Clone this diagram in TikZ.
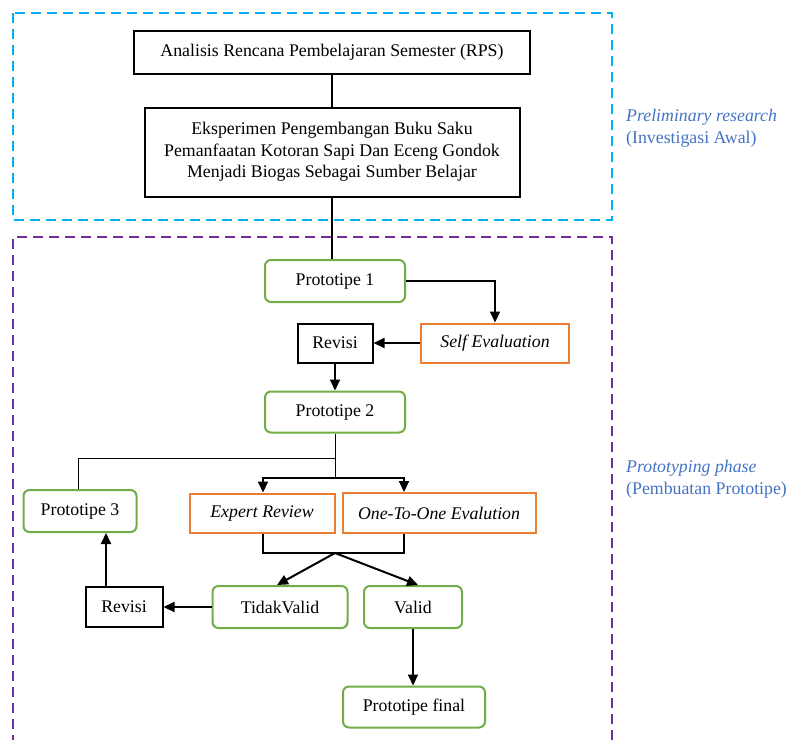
\documentclass[tikz,border=0pt]{standalone}
\usepackage{fontspec}
\setmainfont{Liberation Serif}
\usetikzlibrary{arrows.meta,calc}
\definecolor{cyanb}{HTML}{00B0F0}
\definecolor{purp}{HTML}{7030A0}
\definecolor{grn}{HTML}{70AD47}
\definecolor{org}{HTML}{ED7D31}
\definecolor{lbl}{HTML}{4472C4}
\begin{document}
\begin{tikzpicture}[x=1pt,y=-1pt,
  every node/.style={font=\fontsize{17.8}{21.5}\selectfont, inner sep=0pt},
  bbox/.style={draw=black, line width=2pt, align=center},
  gbox/.style={draw=grn, line width=2pt, rounded corners=6pt, align=center},
  obox/.style={draw=org, line width=2pt, align=center, font=\fontsize{17.8}{21.5}\selectfont\itshape},
  conn/.style={line width=2pt},
  arr/.style={line width=2pt, -{Triangle[length=11pt,width=10pt]}},
  thinl/.style={line width=1pt},
  phase/.style={text=lbl, anchor=west, align=left}
]
\useasboundingbox (0,0) rectangle (792,739);
% phase frames
\draw[cyanb, line width=2pt, dash pattern=on 10pt off 6pt] (13,13) rectangle (612,220);
\draw[purp, line width=2pt, dash pattern=on 10pt off 6pt] (13,745) -- (13,237) -- (612,237) -- (612,745);
% nodes
\node[bbox, minimum width=396pt, minimum height=43pt] (rps) at (332,52) {Analisis Rencana Pembelajaran Semester (RPS)};
\node[bbox, minimum width=375pt, minimum height=89pt] (eks) at (332,152) {Eksperimen Pengembangan Buku Saku\\Pemanfaatan Kotoran Sapi Dan Eceng Gondok\\Menjadi Biogas Sebagai Sumber Belajar};
\node[gbox, minimum width=140pt, minimum height=42pt] (p1) at (335,281) {Prototipe 1};
\node[obox, minimum width=148pt, minimum height=39pt] (se) at (495,343) {Self Evaluation};
\node[bbox, minimum width=75pt, minimum height=39pt] (rv1) at (335,343) {Revisi};
\node[gbox, minimum width=140pt, minimum height=41pt] (p2) at (335,412) {Prototipe 2};
\node[gbox, minimum width=113pt, minimum height=42pt] (p3) at (80,511) {Prototipe 3};
\node[obox, minimum width=145pt, minimum height=39pt] (er) at (262,513) {Expert Review};
\node[obox, minimum width=193pt, minimum height=40pt] (oe) at (439,513) {One-To-One Evalution};
\node[gbox, minimum width=135pt, minimum height=42pt] (tv) at (280,607) {TidakValid};
\node[gbox, minimum width=98pt, minimum height=42pt] (va) at (413,607) {Valid};
\node[bbox, minimum width=77pt, minimum height=40pt] (rv2) at (124,607) {Revisi};
\node[gbox, minimum width=142pt, minimum height=41pt] (fin) at (414,707) {Prototipe final};
% phase labels
\node[phase] (l1) at (626,128) {\textit{Preliminary research}\\(Investigasi Awal)};
\node[phase] (l2) at (626,479) {\textit{Prototyping phase}\\(Pembuatan Prototipe)};
% helper coordinates
\coordinate (j1) at (335,458);
\coordinate (j2) at (335,478);
\coordinate (j3) at (335,553);
\coordinate (xo) at (404,0);
\coordinate (xe) at (263,0);
\coordinate (xr) at (106,0);
\coordinate (xp) at (78,0);
% connectors
\draw[conn] (rps) -- (eks);
\draw[conn] (eks.south) -- (eks.south |- p1.north);
\draw[arr] (p1.east) -| (se.north);
\draw[arr] (se.west) -- (rv1.east);
\draw[arr] (rv1.south) -- (rv1.south |- p2.north);
\draw[thinl] (p2.south) -- (j2);
\draw[thinl] (j1) -| (p3.north -| xp);
\draw[arr] (j2) -| (er.north -| xe);
\draw[arr] (j2) -| (oe.north -| xo);
\draw[conn] (er.south -| xe) |- (j3) -| (oe.south -| xo);
\draw[arr] (j3) -- ($(tv.north)+(-3,0)$);
\draw[arr] (j3) -- ($(va.north)+(5,0)$);
\draw[arr] (tv.west) -- (rv2.east);
\draw[arr] (rv2.north -| xr) -- (p3.south -| xr);
\draw[arr] (va.south) -- (va.south |- fin.north);
\end{tikzpicture}
\end{document}
